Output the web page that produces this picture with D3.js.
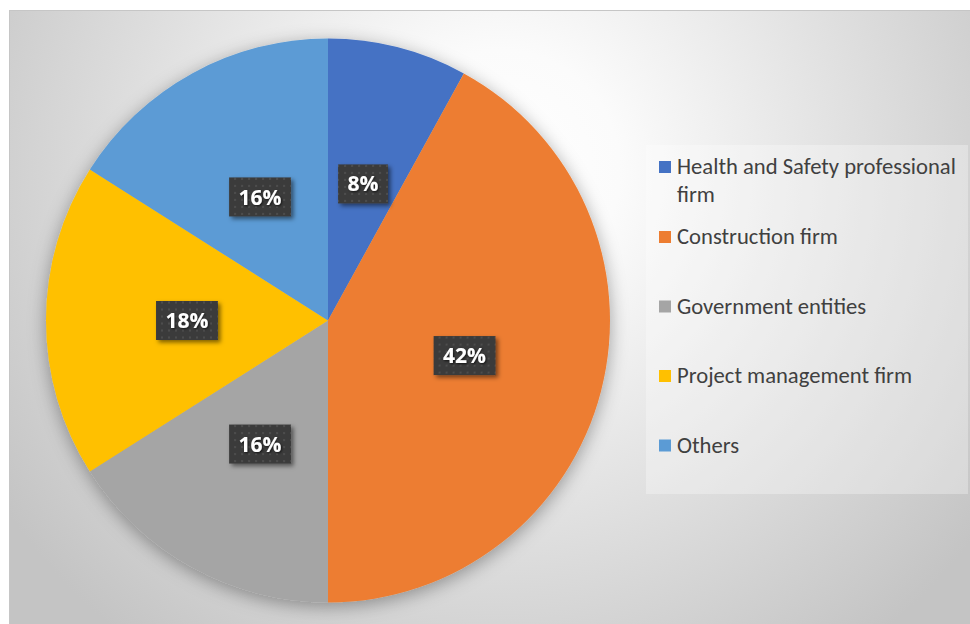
<!DOCTYPE html>
<html>
<head>
<meta charset="utf-8">
<script src="https://cdn.jsdelivr.net/npm/d3@7"></script>
<style>
  html, body { margin: 0; padding: 0; background: #ffffff; }
  svg { display: block; }
</style>
</head>
<body>
<svg id="chart" width="970" height="624"></svg>
<script>
// Respondent organisation types and their shares (%)
const categories = [
  "Health and Safety professional firm",
  "Construction firm",
  "Government entities",
  "Project management firm",
  "Others"
];
const shares = [8, 42, 16, 18, 16];
const colors = ["#4472C4", "#ED7D31", "#A5A5A5", "#FFC000", "#5B9BD5"];
// Legend text broken into lines as it wraps in the legend box
const legendLines = [
  ["Health and Safety professional", "firm"],
  ["Construction firm"],
  ["Government entities"],
  ["Project management firm"],
  ["Others"]
];

const W = 970, H = 624;
const svg = d3.select("#chart");
const defs = svg.append("defs");

// Chart area background: soft radial gradient, bright near the top centre
const bg = defs.append("radialGradient")
  .attr("id", "bgGrad")
  .attr("gradientUnits", "userSpaceOnUse")
  .attr("cx", 500).attr("cy", 170).attr("r", 600);
bg.append("stop").attr("offset", 0).attr("stop-color", "#ffffff");
bg.append("stop").attr("offset", 0.2).attr("stop-color", "#fbfbfb");
bg.append("stop").attr("offset", 1).attr("stop-color", "#c4c4c4");

// Soft shadow under the pie
const pieShadow = defs.append("filter").attr("id", "pieShadow")
  .attr("x", "-20%").attr("y", "-20%").attr("width", "140%").attr("height", "140%");
pieShadow.append("feDropShadow")
  .attr("dx", 0).attr("dy", 4).attr("stdDeviation", 9)
  .attr("flood-color", "#000").attr("flood-opacity", 0.35);

// Shadow for data label boxes
const boxShadow = defs.append("filter").attr("id", "boxShadow")
  .attr("x", "-30%").attr("y", "-30%").attr("width", "170%").attr("height", "170%");
boxShadow.append("feDropShadow")
  .attr("dx", 2.5).attr("dy", 2.5).attr("stdDeviation", 2)
  .attr("flood-color", "#000").attr("flood-opacity", 0.5);

// Shadow for label text
const textShadow = defs.append("filter").attr("id", "textShadow")
  .attr("x", "-20%").attr("y", "-20%").attr("width", "140%").attr("height", "140%");
textShadow.append("feDropShadow")
  .attr("dx", 1).attr("dy", 1).attr("stdDeviation", 0.8)
  .attr("flood-color", "#000").attr("flood-opacity", 0.7);

// Dotted dark fill of the data label boxes
const dots = defs.append("pattern").attr("id", "dotFill")
  .attr("patternUnits", "userSpaceOnUse")
  .attr("width", 7).attr("height", 7);
dots.append("rect").attr("width", 7).attr("height", 7).attr("fill", "#3b3b3b");
dots.append("rect").attr("x", 2).attr("y", 2).attr("width", 2).attr("height", 2).attr("fill", "#4d4d4d");

// Chart area
svg.append("rect")
  .attr("x", 9.5).attr("y", 10.5)
  .attr("width", W - 9).attr("height", H - 10)
  .attr("fill", "url(#bgGrad)")
  .attr("stroke", "#c6c6c6").attr("stroke-width", 1);

// Pie
const cx = 328, cy = 320.5, R = 282;
const pie = d3.pie().sort(null).value(d => d)(shares);
const arc = d3.arc().innerRadius(0).outerRadius(R);

const g = svg.append("g").attr("transform", `translate(${cx},${cy})`);
g.append("g")
  .attr("filter", "url(#pieShadow)")
  .selectAll("path")
  .data(pie)
  .join("path")
  .attr("d", arc)
  .attr("fill", (d, i) => colors[i]);

// Data labels at the slice centroids
const labels = g.append("g").selectAll("g")
  .data(pie)
  .join("g")
  .attr("transform", d => `translate(${arc.centroid(d)})`);

labels.each(function (d) {
  const sel = d3.select(this);
  const t = sel.append("text")
    .attr("text-anchor", "middle")
    .attr("dy", "0.36em")
    .attr("font-family", "'Open Sans', 'Noto Sans', sans-serif")
    .attr("font-weight", "bold")
    .attr("font-size", 21)
    .attr("fill", "#ffffff")
    .attr("filter", "url(#textShadow)")
    .text(d.data + "%");
  const w = t.node().getComputedTextLength() + 19;
  const h = 39;
  sel.insert("rect", "text")
    .attr("x", -w / 2).attr("y", -h / 2)
    .attr("width", w).attr("height", h)
    .attr("fill", "url(#dotFill)")
    .attr("filter", "url(#boxShadow)");
});

// Legend
const legend = svg.append("g");
legend.append("rect")
  .attr("x", 646).attr("y", 145)
  .attr("width", 322).attr("height", 349)
  .attr("fill", "#ffffff").attr("fill-opacity", 0.3);

const legendFont = "Carlito, Lato, 'Noto Sans', sans-serif";
// Size the legend font so the longest line fills the legend width
const probe = legend.append("text")
  .attr("font-family", legendFont).attr("font-size", 100)
  .text(legendLines[0][0]);
const legendSize = 100 * 279 / probe.node().getComputedTextLength();
probe.remove();

const baselines = [174, 244, 313.5, 383, 452.5];
const items = legend.selectAll("g.item")
  .data(categories)
  .join("g")
  .attr("class", "item")
  .attr("transform", (d, i) => `translate(659,${baselines[i]})`);

items.append("rect")
  .attr("x", 0).attr("y", -13)
  .attr("width", 12).attr("height", 12)
  .attr("fill", (d, i) => colors[i]);

items.append("text")
  .attr("x", 18)
  .attr("font-family", legendFont)
  .attr("font-size", legendSize)
  .attr("fill", "#404040")
  .selectAll("tspan")
  .data((d, i) => legendLines[i])
  .join("tspan")
  .attr("x", 18)
  .attr("dy", (d, j) => j === 0 ? 0 : 27.5)
  .text(d => d);
</script>
</body>
</html>
